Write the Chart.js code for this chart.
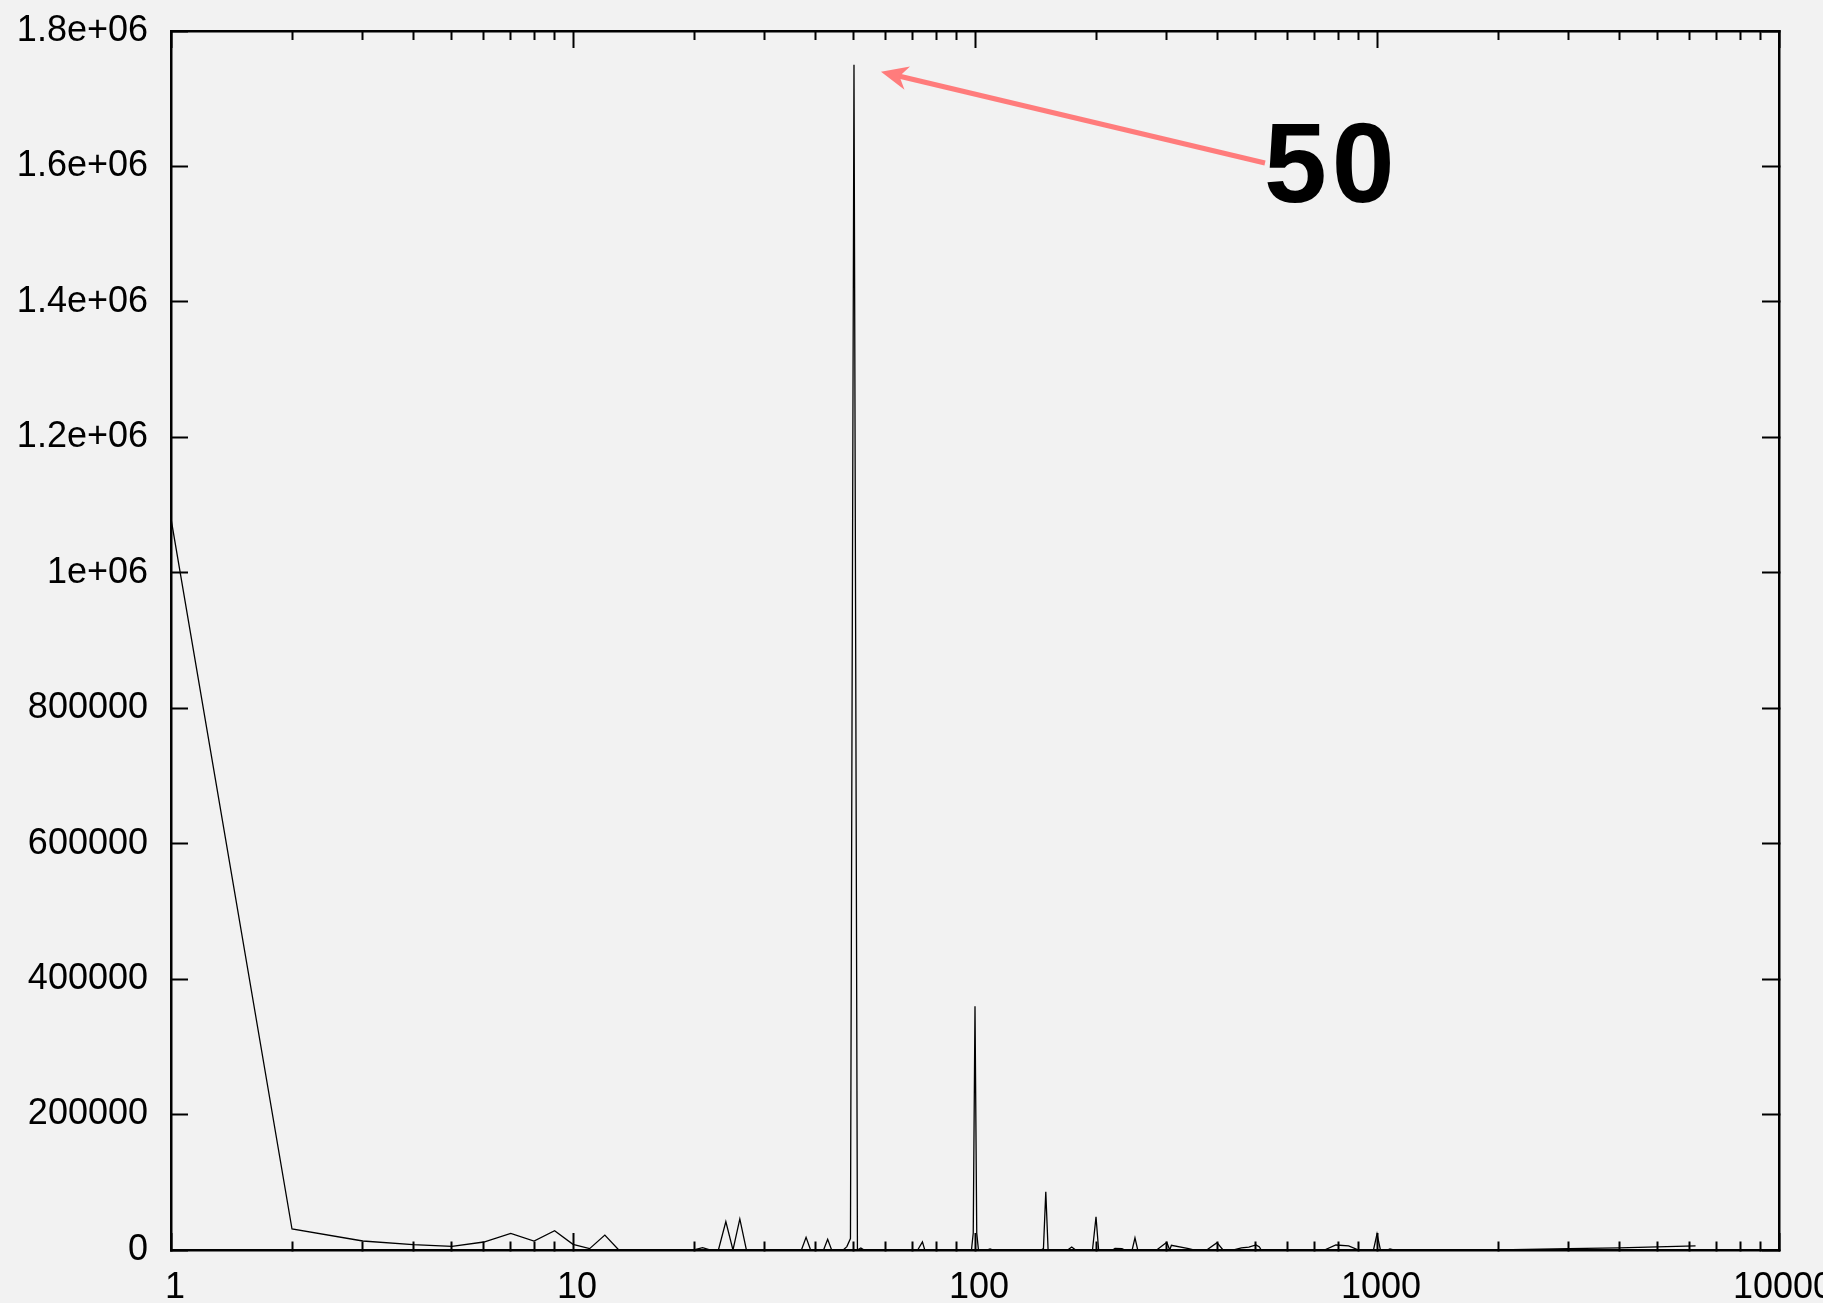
<!DOCTYPE html>
<html>
<head>
<meta charset="utf-8">
<script src="https://cdn.jsdelivr.net/npm/chart.js@4/dist/chart.umd.min.js"></script>
<style>
html, body { margin: 0; padding: 0; background: #f2f2f2; overflow: hidden; }
#clip { width: 1823px; height: 1303px; overflow: hidden; position: relative; }
#box { width: 1883px; height: 1303px; position: absolute; left: 0; top: 0; }
</style>
</head>
<body>
<div id="clip"><div id="box"><canvas id="chart"></canvas></div></div>
<script>
// period (x, log scale) and count (y)
var periods = [1, 2, 3, 4, 5, 6, 7, 8, 9, 10, 11, 12, 13,
    20, 21, 22, 23, 24, 25, 26, 27, 37, 38, 39, 42, 43, 44,
    47, 48, 49, 50, 51, 52, 53, 72, 74, 75,
    98, 99, 100, 101, 102, 107, 109, 111,
    146, 148, 150, 152, 170, 174, 178, 196, 200, 203,
    220, 223, 232, 236, 246, 250, 254,
    283, 300, 305, 308, 340, 350, 377, 400, 414,
    440, 460, 480, 500, 510, 515, 740, 790, 850, 900,
    980, 1000, 1020, 1060, 1077, 1100, 2000, 3000, 4000, 6200];
var counts = [1080000, 31000, 13300, 8000, 5400, 11800, 24600, 13300, 28500, 8400, 2000, 22000, 0,
    0, 3500, 0, 0, 41800, 0, 45800, 0, 0, 18700, 0, 0, 15700, 0,
    0, 5000, 17000, 1750000, 0, 3000, 0, 0, 12000, 0,
    0, 25000, 360000, 25000, 0, 0, 1500, 0,
    0, 2000, 86000, 0, 0, 4400, 0, 0, 49000, 0,
    0, 2500, 2000, 0, 0, 18000, 0,
    0, 11300, 0, 7000, 2000, 0, 0, 10800, 0,
    0, 3000, 4400, 7400, 4400, 0, 0, 7400, 6000, 0,
    0, 23600, 0, 0, 1500, 0, 0, 2000, 3000, 6000];

var xTicks = [1, 10, 100, 1000, 10000];
var xTickLabels = ["1", "10", "100", "1000", "10000"];
var yTicks = [0, 200000, 400000, 600000, 800000, 1000000, 1200000, 1400000, 1600000, 1800000];
var yTickLabels = ["0", "200000", "400000", "600000", "800000", "1e+06", "1.2e+06", "1.4e+06", "1.6e+06", "1.8e+06"];

var peakPeriod = 50;
var peakCount = 1750000;
var peakLabel = "50";

var points = [];
for (var i = 0; i < periods.length; i++) {
    points.push({ x: periods[i], y: counts[i] });
}

function isMajor(v) {
    return xTicks.indexOf(v) >= 0;
}

// majors plus 2..9 in each decade
function logTicks(scale) {
    var t = [];
    for (var i = 0; i < xTicks.length; i++) {
        t.push({ value: xTicks[i] });
        if (i < xTicks.length - 1) {
            for (var k = 2; k < 10; k++) t.push({ value: xTicks[i] * k });
        }
    }
    scale.ticks = t;
}

function linTicks(scale) {
    scale.ticks = yTicks.map(function (v) { return { value: v }; });
}

// fixed box size, and no extra room asked for the end labels
function fixSize(w, h) {
    return function (s) {
        if (w !== null) s.width = w;
        if (h !== null) s.height = h;
        s.paddingTop = 0;
        s.paddingBottom = 0;
        s.paddingLeft = 0;
        s.paddingRight = 0;
    };
}

Chart.defaults.font.family = "'Liberation Sans', Arial, sans-serif";
Chart.defaults.font.size = 36;
Chart.defaults.color = "#000";

var arrowPlugin = {
    id: "peakArrow",
    afterDraw: function (chart) {
        var ctx = chart.ctx;
        var xs = chart.scales.x, ys = chart.scales.y;
        var tipX = xs.getPixelForValue(peakPeriod) + 27;
        var tipY = ys.getPixelForValue(peakCount) + 7;
        var tailX = 1265, tailY = 163;
        var dx = tipX - tailX, dy = tipY - tailY;
        var len = Math.sqrt(dx * dx + dy * dy);
        var ux = dx / len, uy = dy / len;
        var px = -uy, py = ux;
        ctx.save();
        ctx.strokeStyle = "rgb(255,124,124)";
        ctx.fillStyle = "rgb(255,124,124)";
        ctx.lineWidth = 5;
        ctx.beginPath();
        ctx.moveTo(tailX, tailY);
        ctx.lineTo(tipX - ux * 16, tipY - uy * 16);
        ctx.stroke();
        ctx.beginPath();
        ctx.moveTo(tipX, tipY);
        ctx.lineTo(tipX - ux * 27 + px * 12, tipY - uy * 27 + py * 12);
        ctx.lineTo(tipX - ux * 19, tipY - uy * 19);
        ctx.lineTo(tipX - ux * 27 - px * 12, tipY - uy * 27 - py * 12);
        ctx.closePath();
        ctx.fill();
        ctx.fillStyle = "#000";
        ctx.font = "bold 113px 'Liberation Sans', Arial, sans-serif";
        ctx.letterSpacing = "5px";
        ctx.textBaseline = "alphabetic";
        ctx.textAlign = "left";
        ctx.fillText(peakLabel, 1264, 202);
        ctx.restore();
    }
};

function gridOpts(dashMinor) {
    return {
        display: true,
        drawOnChartArea: false,
        drawTicks: true,
        tickLength: -17,
        tickWidth: 2,
        tickColor: "#000",
        tickBorderDash: function (c) {
            if (c.tick && !isMajor(c.tick.value) && dashMinor) return dashMinor;
            return [];
        }
    };
}

var chart = new Chart(document.getElementById("chart"), {
    type: "line",
    data: {
        datasets: [
            {
                data: points,
                borderColor: "#000",
                borderWidth: 1.3,
                pointRadius: 0,
                tension: 0,
                fill: false,
                xAxisID: "x",
                yAxisID: "y"
            }
        ]
    },
    options: {
        animation: false,
        responsive: true,
        maintainAspectRatio: false,
        layout: { padding: { left: 0, top: 31, right: 104, bottom: 0 } },
        plugins: {
            legend: { display: false },
            tooltip: { enabled: false }
        },
        scales: {
            x: {
                type: "logarithmic",
                position: "bottom",
                min: 1,
                max: 10000,
                afterBuildTicks: logTicks,
                afterFit: fixSize(null, 53),
                border: { display: true, color: "#000", width: 2.5 },
                grid: gridOpts([10, 100]),
                ticks: {
                    autoSkip: false,
                    maxRotation: 0,
                    padding: 33,
                    labelOffset: 4,
                    callback: function (v) {
                        var k = xTicks.indexOf(v);
                        return k >= 0 ? xTickLabels[k] : "";
                    }
                }
            },
            x2: {
                type: "logarithmic",
                position: "top",
                min: 1,
                max: 10000,
                afterBuildTicks: logTicks,
                afterFit: fixSize(null, 0),
                border: { display: true, color: "#000", width: 2.5 },
                grid: gridOpts([0, 8, 9, 100]),
                ticks: { display: false, autoSkip: false }
            },
            y: {
                type: "linear",
                position: "left",
                min: 0,
                max: 1800000,
                afterBuildTicks: linTicks,
                afterFit: fixSize(171, null),
                border: { display: true, color: "#000", width: 2.5 },
                grid: gridOpts(null),
                ticks: {
                    padding: 40,
                    callback: function (v) {
                        var k = yTicks.indexOf(v);
                        return k >= 0 ? yTickLabels[k] : "";
                    }
                }
            },
            y2: {
                type: "linear",
                position: "right",
                min: 0,
                max: 1800000,
                afterBuildTicks: linTicks,
                afterFit: fixSize(0, null),
                border: { display: true, color: "#000", width: 2.5 },
                grid: gridOpts(null),
                ticks: { display: false }
            }
        }
    },
    plugins: [arrowPlugin]
});
</script>
</body>
</html>
